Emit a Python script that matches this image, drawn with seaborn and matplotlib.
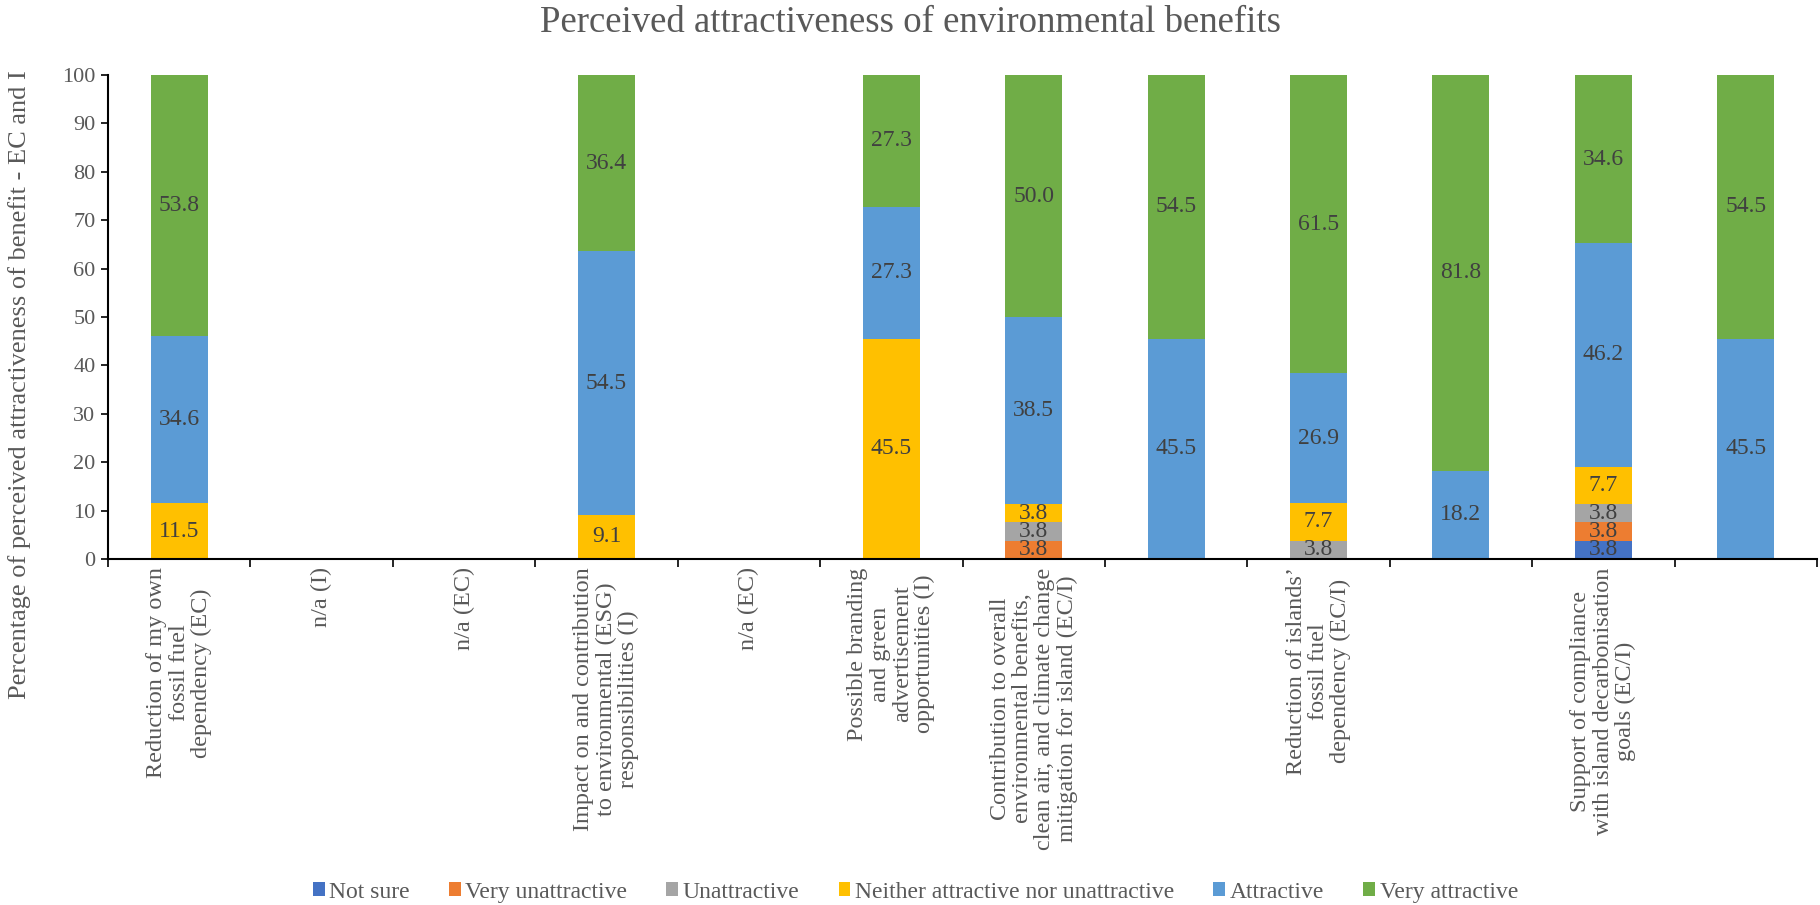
import numpy as np
import pandas as pd
import matplotlib
matplotlib.use("Agg")
import matplotlib.pyplot as plt
from matplotlib.patches import Patch
import seaborn as sns

# Benefit categories (one slot per bar position, some are empty)
categories = [
    "Reduction of my own\nfossil fuel\ndependency (EC)",
    "n/a (I)",
    "n/a (EC)",
    "Impact on and contribution\nto environmental (ESG)\nresponsibilities (I)",
    "n/a (EC)",
    "Possible branding\nand green\nadvertisement\nopportunities (I)",
    "Contribution to overall\nenvironmental benefits,\nclean air, and climate change\nmitigation for island (EC/I)",
    "",
    "Reduction of islands\u2019\nfossil fuel\ndependency (EC/I)",
    "",
    "Support of compliance\nwith island decarbonisation\ngoals (EC/I)",
    "",
]

levels = ["Not sure", "Very unattractive", "Unattractive",
          "Neither attractive nor unattractive", "Attractive", "Very attractive"]

not_sure          = [0, 0, 0, 0, 0, 0, 0, 0, 0, 0, 3.8, 0]
very_unattractive = [0, 0, 0, 0, 0, 0, 3.8, 0, 0, 0, 3.8, 0]
unattractive      = [0, 0, 0, 0, 0, 0, 3.8, 0, 3.8, 0, 3.8, 0]
neither           = [11.5, 0, 0, 9.1, 0, 45.5, 3.8, 0, 7.7, 0, 7.7, 0]
attractive        = [34.6, 0, 0, 54.5, 0, 27.3, 38.5, 45.5, 26.9, 18.2, 46.2, 45.5]
very_attractive   = [53.8, 0, 0, 36.4, 0, 27.3, 50.0, 54.5, 61.5, 81.8, 34.6, 54.5]

series = [not_sure, very_unattractive, unattractive, neither, attractive, very_attractive]
colors = ["#4472C4", "#ED7D31", "#A5A5A5", "#FFC000", "#5B9BD5", "#70AD47"]

sns.set_theme(style="white")
plt.rcParams["font.family"] = ["Liberation Serif", "DejaVu Serif"]

W, H = 1820, 905
fig = plt.figure(figsize=(W / 100, H / 100), dpi=100)
ax = fig.add_axes([108 / W, 1 - 559 / H, (1817 - 108) / W, (559 - 75) / H])

idx = list(range(len(categories)))
bottom = np.zeros(len(categories))
for name, vals, col in zip(levels, series, colors):
    df = pd.DataFrame({"slot": idx, "value": vals})
    sns.barplot(data=df, x="slot", y="value", order=idx, color=col,
                width=0.4, bottom=bottom.copy(), ax=ax,
                saturation=1, linewidth=0, errorbar=None)
    for i, v in enumerate(vals):
        if v > 0:
            ax.text(i, bottom[i] + v / 2, f"{v:.1f}", ha="center", va="center",
                    fontsize=17, color="#404040")
    bottom += np.array(vals)

ax.set_xlim(-0.5, len(categories) - 0.5)
ax.set_ylim(0, 100)
ax.set_yticks(np.arange(0, 101, 10))
ax.tick_params(axis="y", labelsize=16, labelcolor="#595959", length=5,
               width=1.2, color="black", direction="out", left=True, pad=4)

# Tick marks on category boundaries, labels at category centres
ax.set_xticks(np.arange(-0.5, len(categories), 1.0))
ax.set_xticklabels([])
ax.set_xticks(idx, minor=True)
ax.set_xticklabels(categories, minor=True, rotation=90, ha="center", va="top",
                   multialignment="center", fontsize=17.5, color="#595959",
                   linespacing=1.08)
ax.tick_params(axis="x", which="major", length=6, width=1.2, color="black",
               direction="out", bottom=True)
ax.tick_params(axis="x", which="minor", length=0, pad=6, bottom=True)
ax.set_xlabel("")
ax.set_ylabel("")

for s in ["top", "right"]:
    ax.spines[s].set_visible(False)
for s in ["left", "bottom"]:
    ax.spines[s].set_color("black")
    ax.spines[s].set_linewidth(1.5)

fig.text(20 / W, 1 - 385 / H,
         "Percentage of perceived attractiveness of benefit - EC and I",
         rotation=90, ha="center", va="center", fontsize=19, color="#595959")

fig.text(0.5, 1 - 23 / H, "Perceived attractiveness of environmental benefits",
         ha="center", va="center", fontsize=26.5, color="#595959")

handles = [Patch(facecolor=c, edgecolor="none") for c in colors]
fig.legend(handles, levels, loc="center", bbox_to_anchor=(0.503, 1 - 892 / H),
           ncol=6, frameon=False, fontsize=17, handlelength=0.5, handleheight=0.5,
           handletextpad=0.2, columnspacing=1.65, labelcolor="#595959")

fig.savefig("out.png", dpi=100)
